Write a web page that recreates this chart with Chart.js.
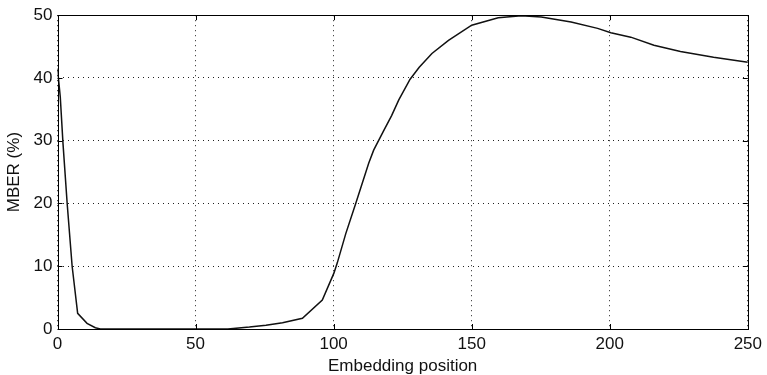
<!DOCTYPE html>
<html>
<head>
<meta charset="utf-8">
<script src="https://cdn.jsdelivr.net/npm/chart.js@4.4.1/dist/chart.umd.min.js"></script>
<style>
    html, body { margin: 0; padding: 0; background: #fff; }
    #wrap { width: 767px; height: 375px; position: relative; }
</style>
</head>
<body>
<div id="wrap"><canvas id="mber-chart"></canvas></div>
<script>
// Embedding position vs MBER (%)
const positions = [0, 1, 2, 3.5, 5.3, 7.3, 10.7, 13.7, 15.5, 30, 45, 61.7, 69.5, 75.5, 81.5, 88.7,
    95.9, 100.1, 101.3, 104.4, 108, 112.7, 114.5, 118, 121, 123.6, 127.7, 131, 135.6, 141.6,
    150, 159.6, 168, 175.2, 186, 195.6, 200.4, 207.6, 216, 225.6, 237.6, 250];
const mber = [41.5, 37, 29.5, 20, 10, 2.5, 0.9, 0.2, 0, 0, 0, 0, 0.3, 0.6, 1.0, 1.7,
    4.6, 8.9, 10.5, 15.2, 20, 26.4, 28.5, 31.5, 34, 36.5, 39.8, 41.7, 43.9, 46,
    48.4, 49.6, 49.9, 49.7, 48.9, 47.9, 47.2, 46.5, 45.2, 44.2, 43.3, 42.5];
const xTicks = [0, 50, 100, 150, 200, 250];
const yTicks = [0, 10, 20, 30, 40, 50];

const FONT = "'Liberation Sans', Arial, sans-serif";

// MATLAB style box with inward tick marks
const boxPlugin = {
    id: 'box',
    afterDraw(chart) {
        const { ctx, chartArea: a, scales } = chart;
        ctx.save();
        ctx.strokeStyle = '#000';
        ctx.lineWidth = 1;
        ctx.setLineDash([]);
        ctx.strokeRect(Math.round(a.left) + 0.5, Math.round(a.top) + 0.5,
            Math.round(a.right - a.left), Math.round(a.bottom - a.top));
        const len = 5;
        ctx.beginPath();
        scales.x.ticks.forEach(t => {
            const px = Math.round(scales.x.getPixelForValue(t.value)) + 0.5;
            ctx.moveTo(px, a.bottom); ctx.lineTo(px, a.bottom - len);
            ctx.moveTo(px, a.top); ctx.lineTo(px, a.top + len);
        });
        scales.y.ticks.forEach(t => {
            const py = Math.round(scales.y.getPixelForValue(t.value)) + 0.5;
            ctx.moveTo(a.left, py); ctx.lineTo(a.left + len, py);
            ctx.moveTo(a.right, py); ctx.lineTo(a.right - len, py);
        });
        ctx.stroke();
        ctx.restore();
    }
};

new Chart(document.getElementById('mber-chart'), {
    type: 'line',
    data: {
        datasets: [{
            data: positions.map((x, i) => ({ x: x, y: mber[i] })),
            borderColor: '#111',
            borderWidth: 1.5,
            pointRadius: 0,
            tension: 0,
            fill: false
        }]
    },
    options: {
        responsive: true,
        maintainAspectRatio: false,
        animation: false,
        layout: { padding: { top: 15, right: 16, left: 0, bottom: 0 } },
        plugins: {
            legend: { display: false },
            tooltip: { enabled: false }
        },
        scales: {
            x: {
                type: 'linear',
                min: 0,
                max: 250,
                afterBuildTicks: s => { s.ticks = xTicks.map(v => ({ value: v })); },
                afterFit: s => { s.height = 46; },
                border: { display: false, dash: [1, 4] },
                grid: {
                    color: '#222',
                    lineWidth: 1,
                    drawTicks: false
                },
                ticks: {
                    color: '#111',
                    padding: 5,
                    maxRotation: 0,
                    font: { family: FONT, size: 17 }
                },
                title: {
                    display: true,
                    text: 'Embedding position',
                    color: '#111',
                    padding: { top: 0, bottom: 0 },
                    font: { family: FONT, size: 17, lineHeight: 1.05 }
                }
            },
            y: {
                min: 0,
                max: 50,
                afterBuildTicks: s => { s.ticks = yTicks.map(v => ({ value: v })); },
                afterFit: s => { s.width = 57.5; },
                border: { display: false, dash: [1, 4] },
                grid: {
                    color: '#222',
                    lineWidth: 1,
                    drawTicks: false
                },
                ticks: {
                    color: '#111',
                    padding: 5,
                    font: { family: FONT, size: 17 }
                },
                title: {
                    display: true,
                    text: 'MBER (%)',
                    color: '#111',
                    padding: { top: 4, bottom: 0 },
                    font: { family: FONT, size: 17 }
                }
            }
        }
    },
    plugins: [boxPlugin]
});
</script>
</body>
</html>
